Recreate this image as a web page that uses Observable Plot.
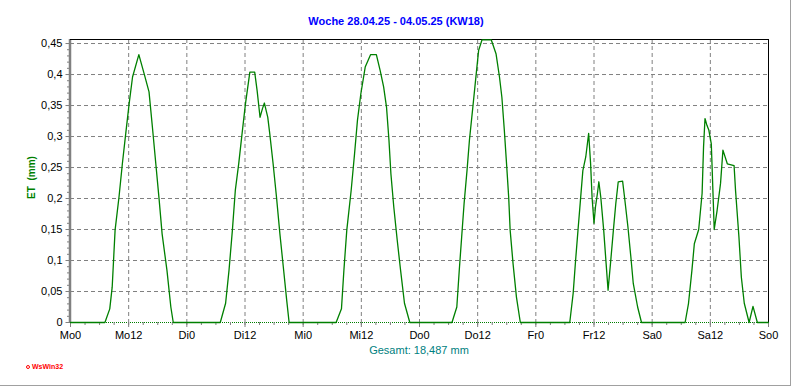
<!DOCTYPE html>
<html><head><meta charset="utf-8">
<script src="https://cdn.jsdelivr.net/npm/d3@7"></script>
<script src="https://cdn.jsdelivr.net/npm/@observablehq/plot@0.6"></script>
<style>
body{margin:0;background:#fff;}
#wrap{position:relative;width:792px;height:387px;overflow:hidden;font-family:"Liberation Sans",Arial,sans-serif;background:#fff;}
#chart{position:absolute;left:0;top:0;}
#frame{position:absolute;left:0;top:0;width:790px;height:385px;border-right:1px solid #a0a0a0;border-bottom:1px solid #a0a0a0;pointer-events:none;}
#title{position:absolute;top:15px;left:0;width:792px;text-align:center;font-weight:bold;font-size:11px;line-height:13px;color:#0000ff;}
#ylab{position:absolute;left:1px;top:171px;width:60px;text-align:center;font-weight:bold;font-size:10px;line-height:13px;color:#008000;transform:rotate(-90deg);}
#total{position:absolute;left:319px;top:344px;width:200px;text-align:center;font-size:11px;line-height:13px;color:#008080;}
#logo{position:absolute;left:26px;top:363px;font-weight:bold;font-size:7px;line-height:8px;color:#ff0000;white-space:nowrap;}
#logo .dot{display:inline-block;width:2px;height:2px;border:1px solid #ff0000;border-radius:50%;margin-right:2px;vertical-align:middle;}
</style></head><body>
<div id="wrap">
 <div id="chart"></div>
 <div id="title">Woche 28.04.25 - 04.05.25 (KW18)</div>
 <div id="ylab">ET&nbsp; (mm)</div>
 <div id="total">Gesamt: 18,487 mm</div>
 <div id="logo"><span class="dot"></span>WsWin32</div>
 <div id="frame"></div>
</div>
<script>
// hours since Monday 0:00
const hours = [0, 7.1, 8.1, 8.6, 9.2, 10, 10.7, 11.4, 12.1, 12.8, 14.1, 15.2, 16.2, 16.9, 17.6, 18.3, 18.9, 19.9, 20.7, 21.2,
 30.9, 32.0, 32.7, 33.4, 34.0, 34.7, 35.4, 36.1, 37.0, 38.0, 38.5, 39.1, 39.6, 40.0, 40.7, 41.1, 41.8, 42.5, 43.2, 43.9, 44.6, 45.1,
 54.8, 55.9, 56.4, 57.0, 57.9, 58.6, 59.2, 59.9, 60.8, 61.9, 63.1, 63.9, 64.6, 65.2, 65.7, 66.1, 66.7, 67.4, 68.1, 68.9, 70.0,
 78.7, 79.7, 80.2, 80.7, 81.2, 81.8, 82.3, 83.0, 83.7, 84.2, 84.9, 86.8, 87.8, 88.5, 89.0, 89.5, 90.0, 90.4, 90.7, 91.3, 92.0, 92.8,
 103.0, 103.7, 104.2, 104.7, 105.2, 105.7, 106.3, 106.9, 107.3, 107.6, 108.0, 108.3, 108.7, 109.0, 109.4, 110.0, 110.5, 110.9, 111.4, 112.0, 112.5, 113.0, 113.9, 114.3, 115.0, 115.6, 116.1, 117.0, 117.8,
 126.8, 127.5, 128.2, 128.7, 129.6, 130.3, 130.6, 130.9, 131.3, 131.7, 132.2, 132.6, 132.8, 133.4, 134.1, 134.6, 135.5, 136.9, 137.2, 137.9, 138.4, 139.0, 140.0, 140.8, 141.7, 144];
// evapotranspiration (mm)
const et = [0, 0, .022, .057, .149, .202, .256, .305, .353, .396, .432, .401, .372, .315, .256, .197, .143, .084, .025, 0,
 0, .031, .084, .149, .213, .256, .305, .353, .404, .404, .374, .331, .345, .354, .331, .305, .256, .202, .143, .090, .036, 0,
 0, .022, .084, .149, .213, .272, .326, .369, .412, .432, .432, .406, .380, .347, .294, .240, .186, .133, .084, .031, 0,
 0, .025, .084, .138, .192, .245, .294, .347, .401, .439, .456, .456, .433, .396, .363, .310, .251, .202, .149, .095, .041, 0,
 0, .047, .100, .149, .197, .245, .267, .305, .256, .202, .160, .186, .208, .227, .202, .149, .095, .052, .095, .149, .192, .227, .228, .202, .154, .106, .063, .025, 0,
 0, .031, .084, .127, .150, .208, .283, .329, .318, .310, .288, .197, .150, .181, .224, .278, .256, .253, .213, .138, .073, .031, 0, .026, 0, 0];

const xTickHours = [0, 12, 24, 36, 48, 60, 72, 84, 96, 108, 120, 132, 144];
const xTickLabels = ["Mo0", "Mo12", "Di0", "Di12", "Mi0", "Mi12", "Do0", "Do12", "Fr0", "Fr12", "Sa0", "Sa12", "So0"];
const yTicks = [0, 0.05, 0.1, 0.15, 0.2, 0.25, 0.3, 0.35, 0.4, 0.45];
const yTickLabels = ["0", "0,05", "0,1", "0,15", "0,2", "0,25", "0,3", "0,35", "0,4", "0,45"];
const yMax = 0.4565;

const data = hours.map((h, i) => ({h, v: et[i]}));
const xMinor = d3.range(0, 145, 3);
const yMinor = d3.range(0, 46).map(i => i / 100);
const grid = {stroke: "#808080", strokeOpacity: 1, strokeDasharray: "4,3"};

const chart = Plot.plot({
  width: 792, height: 387,
  marginLeft: 70, marginRight: 24, marginTop: 39, marginBottom: 65,
  x: {domain: [0, 144]},
  y: {domain: [0, yMax]},
  style: {fontFamily: "'Liberation Sans', Arial, sans-serif", fontSize: "11px", color: "#000", background: "transparent"},
  marks: [
    Plot.gridY(yTicks.slice(1), grid),
    Plot.gridX(xTickHours.slice(1, -1), grid),
    Plot.ruleY([0], {stroke: "#008000", strokeDasharray: "1,1"}),
    Plot.axisY(yMinor, {tickSize: 3, text: null, stroke: "#808080", label: null}),
    Plot.axisY(yTicks, {tickSize: 4.5, tickPadding: 3.5, stroke: "#808080", fill: "#000", label: null,
      tickFormat: d => yTickLabels[yTicks.indexOf(d)]}),
    Plot.axisX(xMinor, {tickSize: 3, text: null, stroke: "#808080", label: null}),
    Plot.axisX(xTickHours, {tickSize: 5, tickPadding: 4, stroke: "#808080", fill: "#000", label: null,
      tickFormat: d => xTickLabels[xTickHours.indexOf(d)]}),
    Plot.ruleX([0], {stroke: "#808080", strokeWidth: 2.5, dx: -0.5}),
    Plot.ruleY([yMax], {stroke: "#000"}),
    Plot.ruleX([144], {stroke: "#000"}),
    Plot.line(data, {x: "h", y: "v", stroke: "#008000", strokeWidth: 1.3})
  ]
});
document.getElementById("chart").appendChild(chart);
</script>
</body></html>
